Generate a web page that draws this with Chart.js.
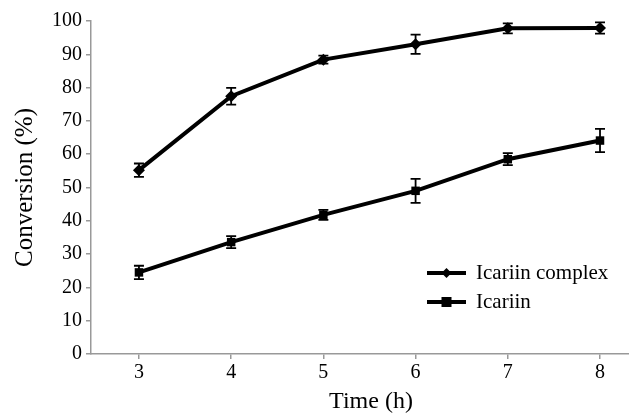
<!DOCTYPE html>
<html><head><meta charset="utf-8">
<script src="https://cdn.jsdelivr.net/npm/chart.js@4"></script>
<style>html,body{margin:0;padding:0;background:#fff;overflow:hidden}#wrap{width:629px;height:416px;overflow:hidden}</style>
</head><body><div id="wrap"><canvas id="c" width="657" height="416"></canvas></div>
<script>
const times = [3, 4, 5, 6, 7, 8];
const complexValues = [55.2, 77.4, 88.4, 93.0, 97.8, 97.9];
const complexErrors = [2.0, 2.5, 1.2, 2.9, 1.5, 1.7];
const icariinValues = [24.5, 33.6, 41.8, 49.0, 58.5, 64.1];
const icariinErrors = [2.0, 1.8, 1.5, 3.6, 1.8, 3.5];
const yTicks = [0, 10, 20, 30, 40, 50, 60, 70, 80, 90, 100];
const seriesLabels = ['Icariin complex', 'Icariin'];

const serif = '"Liberation Serif", "DejaVu Serif", serif';

const errorBars = {
  id: 'errorBars',
  afterDatasetsDraw(chart) {
    const ctx = chart.ctx, xs = chart.scales.x, ys = chart.scales.y;
    ctx.save();
    ctx.strokeStyle = '#000';
    ctx.lineWidth = 1.8;
    chart.data.datasets.forEach(ds => {
      ds.data.forEach((p, i) => {
        const e = ds.errors[i];
        const x = xs.getPixelForValue(p.x);
        const y1 = ys.getPixelForValue(p.y + e), y2 = ys.getPixelForValue(p.y - e);
        ctx.beginPath();
        ctx.moveTo(x, y1); ctx.lineTo(x, y2);
        ctx.moveTo(x - 5, y1); ctx.lineTo(x + 5, y1);
        ctx.moveTo(x - 5, y2); ctx.lineTo(x + 5, y2);
        ctx.stroke();
      });
    });
    ctx.restore();
  }
};

const customLegend = {
  id: 'customLegend',
  afterDraw(chart) {
    const ctx = chart.ctx;
    ctx.save();
    const x0 = 427, x1 = 466, rows = [273, 302];
    chart.data.datasets.forEach((ds, i) => {
      const y = rows[i];
      ctx.strokeStyle = '#000';
      ctx.lineWidth = 4;
      ctx.beginPath(); ctx.moveTo(x0, y); ctx.lineTo(x1, y); ctx.stroke();
      ctx.fillStyle = '#000';
      const cx = (x0 + x1) / 2;
      if (ds.pointStyle === 'rectRot') {
        ctx.beginPath();
        ctx.moveTo(cx, y - 5); ctx.lineTo(cx + 5, y); ctx.lineTo(cx, y + 5); ctx.lineTo(cx - 5, y);
        ctx.closePath(); ctx.fill();
      } else {
        ctx.fillRect(cx - 5, y - 5, 10, 10);
      }
      ctx.font = '21px ' + serif;
      ctx.textBaseline = 'middle';
      ctx.textAlign = 'left';
      ctx.fillText(ds.label, 476, y);
    });
    ctx.restore();
  }
};

new Chart(document.getElementById('c'), {
  type: 'line',
  data: {
    datasets: [
      {
        label: seriesLabels[0],
        data: times.map((t, i) => ({x: t, y: complexValues[i]})),
        errors: complexErrors,
        borderColor: '#000', backgroundColor: '#000',
        borderWidth: 4, pointStyle: 'rectRot', pointRadius: 6, pointBorderWidth: 0,
        tension: 0
      },
      {
        label: seriesLabels[1],
        data: times.map((t, i) => ({x: t, y: icariinValues[i]})),
        errors: icariinErrors,
        borderColor: '#000', backgroundColor: '#000',
        borderWidth: 4, pointStyle: 'rect', pointRadius: 6, pointBorderWidth: 0,
        tension: 0
      }
    ]
  },
  options: {
    responsive: false,
    animation: false,
    events: [],
    layout: {padding: {top: 21, right: 0, left: 0, bottom: 0}},
    plugins: {legend: {display: false}, tooltip: {enabled: false}},
    scales: {
      x: {
        type: 'linear', min: 2.48, max: 8.553,
        afterBuildTicks: s => { s.ticks = times.map(v => ({value: v})); },
        afterFit: s => { s.height = 62; },
        grid: {drawOnChartArea: false, tickLength: 5, color: '#999', lineWidth: 1.5},
        border: {color: '#999', width: 1.5},
        ticks: {color: '#000', font: {family: serif, size: 20}, padding: 2},
        title: {display: true, text: 'Time (h)', color: '#000', font: {family: serif, size: 24}, padding: {top: 0, bottom: 0}}
      },
      y: {
        min: 0, max: 100,
        afterBuildTicks: s => { s.ticks = yTicks.map(v => ({value: v})); },
        afterFit: s => { s.width = 91; },
        grid: {drawOnChartArea: false, tickLength: 5, color: '#999', lineWidth: 1.5},
        border: {color: '#999', width: 1.5},
        ticks: {color: '#000', font: {family: serif, size: 20}, padding: 4},
        title: {display: true, text: 'Conversion (%)', color: '#000', font: {family: serif, size: 25}, padding: {top: 10, bottom: 0}}
      }
    }
  },
  plugins: [errorBars, customLegend]
});
</script>
</body></html>
